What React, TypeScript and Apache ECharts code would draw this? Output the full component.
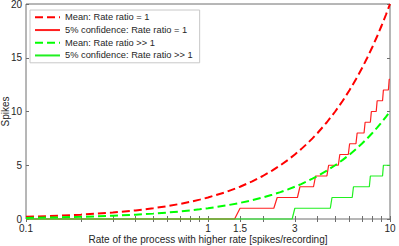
import React, { useEffect, useRef } from "react";
import * as echarts from "echarts";

const meanX = [0.1, 0.15, 0.2, 0.3, 0.4, 0.5, 0.6, 0.7, 0.8, 0.9, 1, 1.25, 1.5, 1.75, 2, 2.25, 2.5, 2.75, 3, 3.25, 3.5, 3.75, 4, 4.5, 5, 5.5, 6, 6.5, 7, 7.5, 8, 8.5, 9, 9.5, 10];
const meanRatio1 = [0.2, 0.3, 0.4, 0.6, 0.8, 1, 1.2, 1.4, 1.6, 1.8, 2, 2.5, 3, 3.5, 4, 4.5, 5, 5.5, 6, 6.5, 7, 7.5, 8, 9, 10, 11, 12, 13, 14, 15, 16, 17, 18, 19, 20];
const meanRatioHigh = [0.1, 0.15, 0.2, 0.3, 0.4, 0.5, 0.6, 0.7, 0.8, 0.9, 1, 1.25, 1.5, 1.75, 2, 2.25, 2.5, 2.75, 3, 3.25, 3.5, 3.75, 4, 4.5, 5, 5.5, 6, 6.5, 7, 7.5, 8, 8.5, 9, 9.5, 10];

const conf1X = [0.1, 1.4, 1.5, 2.3, 2.4, 3.1, 3.2, 3.8, 3.9, 4.5, 4.6, 5.2, 5.3, 5.9, 6.0, 6.5, 6.6, 7.2, 7.3, 7.8, 7.9, 8.4, 8.5, 9.1, 9.2, 9.8, 9.9, 10];
const conf1Y = [0, 0, 1, 1, 2, 2, 3, 3, 4, 4, 5, 5, 6, 6, 7, 7, 8, 8, 9, 9, 10, 10, 11, 11, 12, 12, 13, 13];
const confHighX = [0.1, 2.9, 3.0, 4.7, 4.8, 6.2, 6.3, 7.7, 7.8, 9.1, 9.2, 10];
const confHighY = [0, 0, 1, 1, 2, 2, 3, 3, 4, 4, 5, 5];

const xTickLabels = [0.1, 1, 1.5, 3, 10];
const xTicks = [0.1, 0.2, 0.3, 0.4, 0.5, 0.6, 0.7, 0.8, 0.9, 1, 1.5, 2, 3, 4, 5, 6, 7, 8, 9, 10];
const yTicks = [0, 5, 10, 15, 20];

const seriesNames = [
  "Mean: Rate ratio = 1",
  "5% confidence: Rate ratio = 1",
  "Mean: Rate ratio >> 1",
  "5% confidence: Rate ratio >> 1",
];

const FONT = "Liberation Sans, Arial, sans-serif";
const AX = "#6e6e6e";
const TXT = "#262626";

const zip = (xs: number[], ys: number[]) => xs.map((x, i) => [x, ys[i]]);

export default function App() {
  const ref = useRef<HTMLDivElement>(null);
  useEffect(() => {
    if (!ref.current) return;
    const chart = echarts.init(ref.current, null, { renderer: "svg" });
    const tickStyle = { show: true, inside: true, length: 3, lineStyle: { color: AX, width: 1 } };
    chart.setOption({
      animation: false,
      grid: {
        left: 26, right: 9, top: 4, bottom: 27,
        containLabel: false,
        outerBoundsMode: "none",
        show: true, borderColor: AX, borderWidth: 1, backgroundColor: "transparent",
      },
      legend: {
        orient: "vertical",
        left: 30,
        top: 10,
        data: seriesNames,
        backgroundColor: "#fff",
        borderColor: "#c8c8c8",
        borderWidth: 1,
        padding: [2, 7, 2, 4],
        itemGap: 2,
        itemWidth: 25,
        itemHeight: 10,
        itemStyle: { opacity: 0 },
        textStyle: { fontFamily: FONT, fontSize: 9.3, color: TXT, lineHeight: 10.7 },
      },
      xAxis: [
        {
          type: "log",
          logBase: 10,
          min: 0.1,
          max: 10,
          name: "Rate of the process with higher rate [spikes/recording]",
          nameLocation: "middle",
          nameGap: 15,
          nameMoveOverlap: false,
          nameTextStyle: { fontFamily: FONT, fontSize: 10, color: TXT },
          axisLine: { show: false },
          axisTick: { ...tickStyle, customValues: xTicks },
          axisLabel: { customValues: xTickLabels, fontFamily: FONT, fontSize: 10, color: TXT, margin: 4, formatter: (v: number) => String(v) },
          splitLine: { show: false },
          minorTick: { show: false },
        },
        {
          type: "log",
          logBase: 10,
          min: 0.1,
          max: 10,
          position: "top",
          axisLine: { show: false },
          axisTick: { ...tickStyle, customValues: xTicks },
          axisLabel: { show: false },
          splitLine: { show: false },
        },
      ],
      yAxis: [
        {
          type: "value",
          min: 0,
          max: 20,
          interval: 5,
          name: "Spikes",
          nameLocation: "middle",
          nameGap: 16,
          nameMoveOverlap: false,
          nameTextStyle: { fontFamily: FONT, fontSize: 10, color: TXT },
          axisLine: { show: false },
          axisTick: { ...tickStyle },
          axisLabel: { customValues: yTicks, fontFamily: FONT, fontSize: 10, color: TXT, margin: 4 },
          splitLine: { show: false },
        },
        {
          type: "value",
          min: 0,
          max: 20,
          interval: 5,
          position: "right",
          axisLine: { show: false },
          axisTick: { ...tickStyle },
          axisLabel: { show: false },
          splitLine: { show: false },
        },
      ],
      series: [
        {
          name: seriesNames[0],
          type: "line",
          data: zip(meanX, meanRatio1),
          showSymbol: false,
          symbol: "none",
          clip: false,
          lineStyle: { color: "#ff0000", width: 2, type: [8, 4] },
          itemStyle: { color: "#ff0000" },
        },
        {
          name: seriesNames[1],
          type: "line",
          data: zip(conf1X, conf1Y),
          showSymbol: false,
          symbol: "none",
          clip: false,
          lineStyle: { color: "#ff2020", width: 1.2 },
          itemStyle: { color: "#ff2020" },
        },
        {
          name: seriesNames[2],
          type: "line",
          data: zip(meanX, meanRatioHigh),
          showSymbol: false,
          symbol: "none",
          clip: false,
          lineStyle: { color: "#00ff00", width: 2, type: [8, 4] },
          itemStyle: { color: "#00ff00" },
        },
        {
          name: seriesNames[3],
          type: "line",
          data: zip(confHighX, confHighY),
          showSymbol: false,
          symbol: "none",
          clip: false,
          lineStyle: { color: "#20f020", width: 1.2 },
          itemStyle: { color: "#20f020" },
        },
      ],
    });
    return () => chart.dispose();
  }, []);
  return <div ref={ref} style={{ width: 399, height: 246, position: "absolute", left: 0, top: 0 }} />;
}
